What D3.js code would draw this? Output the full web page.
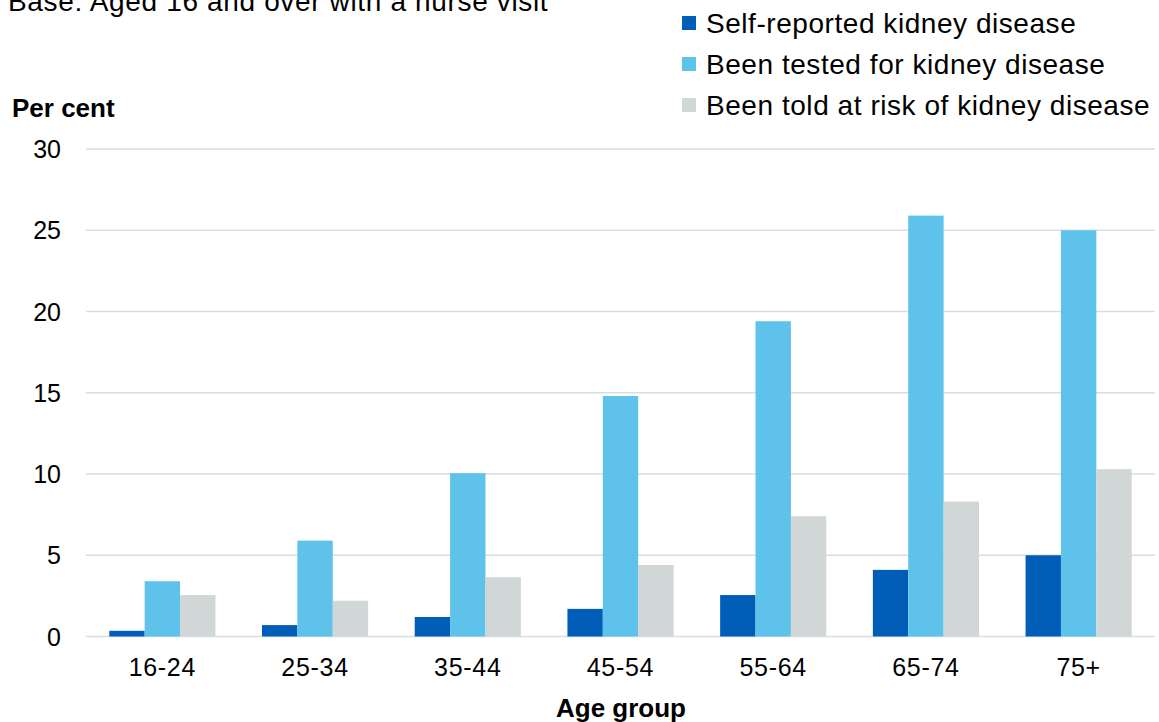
<!DOCTYPE html>
<html><head><meta charset="utf-8">
<script src="https://cdn.jsdelivr.net/npm/d3@7"></script>
<style>body{margin:0;background:#fff;} text{font-family:"Liberation Sans",Arial,sans-serif;fill:#000;}</style>
</head><body>
<svg id="c" width="1159" height="722"></svg>
<script>
const categories = ["16-24","25-34","35-44","45-54","55-64","65-74","75+"];
const seriesNames = ["Self-reported kidney disease","Been tested for kidney disease","Been told at risk of kidney disease"];
const selfReported = [0.35, 0.7, 1.2, 1.7, 2.55, 4.1, 5.0];
const beenTested = [3.4, 5.9, 10.05, 14.8, 19.4, 25.9, 25.0];
const toldAtRisk = [2.55, 2.2, 3.65, 4.4, 7.4, 8.3, 10.3];
const yTicks = [0, 5, 10, 15, 20, 25, 30];
const colors = ["#005EB8", "#5EC2EA", "#D1D6D7"];

const svg = d3.select("#c");
const x0 = d3.scaleBand().domain(categories).range([86, 1155]).paddingInner(0.305).paddingOuter(0.1525);
const x1 = d3.scaleBand().domain(d3.range(3)).range([0, x0.bandwidth()]);
const y = d3.scaleLinear().domain([0, 30]).range([636.5, 149]);
const seriesVals = [selfReported, beenTested, toldAtRisk];

// gridlines
svg.append("g").selectAll("line").data(yTicks).join("line")
  .attr("x1", 86).attr("x2", 1155)
  .attr("y1", d => y(d)).attr("y2", d => y(d))
  .attr("stroke", "#D9DDE1").attr("stroke-width", 1.6);

// y tick labels
svg.append("g").selectAll("text").data(yTicks).join("text")
  .attr("x", 61).attr("y", d => y(d)).attr("dy", "0.36em")
  .attr("text-anchor", "end").style("font-size", "25px").text(d => d);

// bars
const g = svg.append("g");
categories.forEach((c, i) => {
  seriesVals.forEach((vals, s) => {
    g.append("rect")
      .attr("x", x0(c) + x1(s)).attr("width", x1.bandwidth())
      .attr("y", y(vals[i])).attr("height", y(0) - y(vals[i]))
      .attr("fill", colors[s]);
  });
});

// x tick labels
svg.append("g").selectAll("text").data(categories).join("text")
  .attr("x", d => x0(d) + x0.bandwidth() / 2).attr("y", 667).attr("dy", "0.36em")
  .attr("text-anchor", "middle").style("font-size", "25px").style("letter-spacing", "0.7px").text(d => d);

// axis titles
svg.append("text").attr("x", 621).attr("y", 708).attr("dy", "0.36em")
  .attr("text-anchor", "middle").style("font-size", "26px").style("font-weight", "bold").text("Age group");
svg.append("text").attr("x", 12).attr("y", 108).attr("dy", "0.36em")
  .style("font-size", "26px").style("font-weight", "bold").text("Per cent");

// base text
svg.append("text").attr("x", 8).attr("y", 11).style("font-size", "28px").style("letter-spacing", "0.65px")
  .text("Base: Aged 16 and over with a nurse visit");

// legend
const lg = svg.append("g");
seriesNames.forEach((n, i) => {
  const cy = 23 + i * 41;
  lg.append("rect").attr("x", 682).attr("y", cy - 7).attr("width", 14).attr("height", 14).attr("fill", colors[i]);
  lg.append("text").attr("x", 706).attr("y", cy).attr("dy", "0.36em").style("font-size", "28px").style("letter-spacing", "0.55px").text(n);
});
</script>
</body></html>
